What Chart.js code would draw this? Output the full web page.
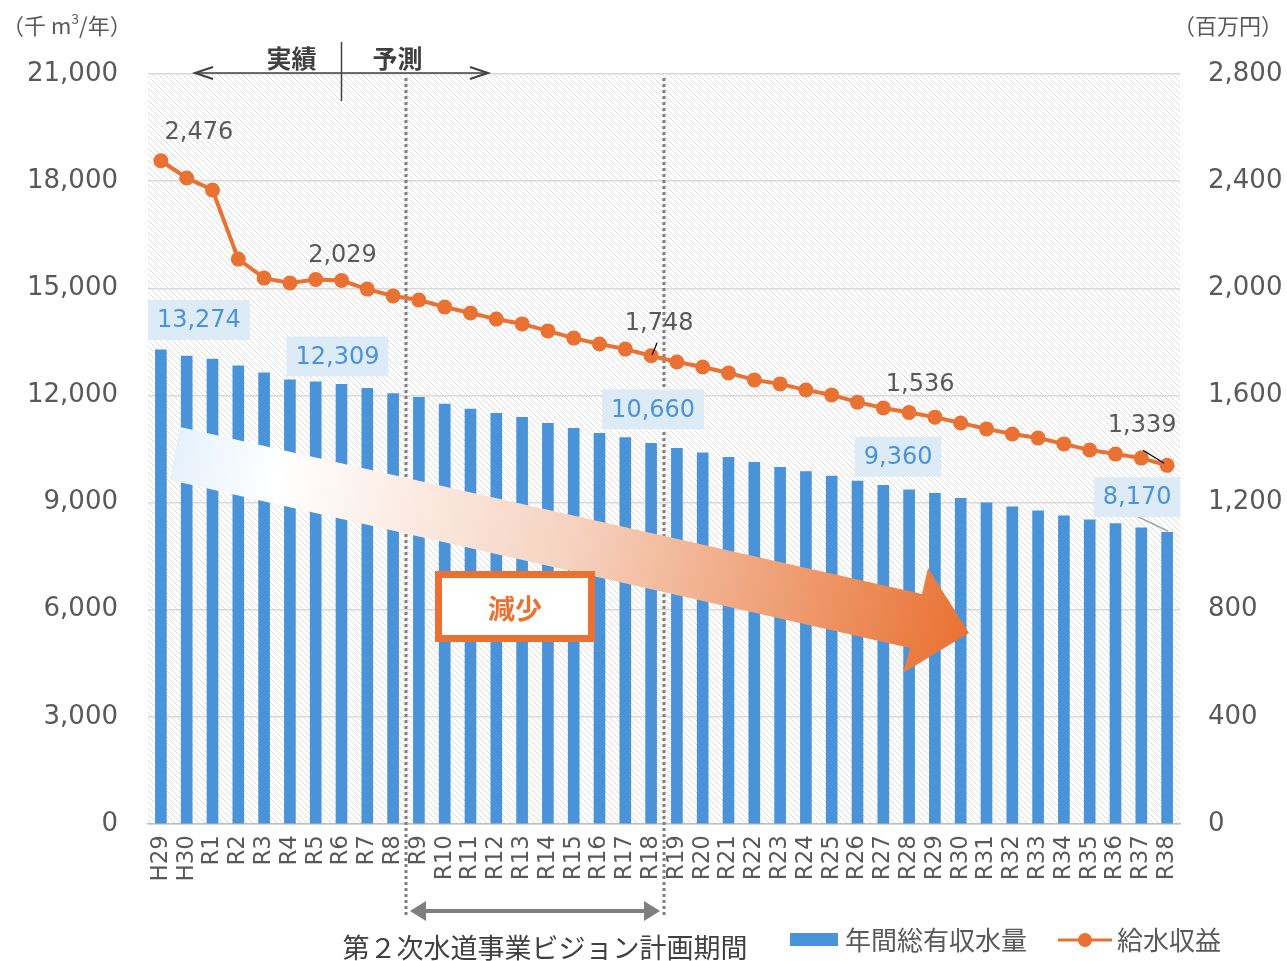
<!DOCTYPE html>
<html>
<head>
<meta charset="utf-8">
<script src="https://cdn.jsdelivr.net/npm/chart.js@4.4.1/dist/chart.umd.min.js"></script>
<style>
  html, body { margin: 0; padding: 0; background: #fff; }
  #wrap { width: 1287px; height: 961px; }
</style>
</head>
<body>
<div id="wrap"><canvas id="chart"></canvas></div>
<script>
const years = ["H29", "H30", "R1", "R2", "R3", "R4", "R5", "R6", "R7", "R8", "R9", "R10",
  "R11", "R12", "R13", "R14", "R15", "R16", "R17", "R18", "R19", "R20", "R21", "R22",
  "R23", "R24", "R25", "R26", "R27", "R28", "R29", "R30", "R31", "R32", "R33", "R34",
  "R35", "R36", "R37", "R38"];

// 年間総有収水量 (千m3/年)
const volume = [13274, 13100, 13020, 12830, 12630, 12440, 12380, 12309, 12200, 12050,
  11950, 11760, 11620, 11500, 11390, 11220, 11080, 10940, 10820, 10660,
  10520, 10390, 10270, 10130, 9990, 9870, 9740, 9600, 9480, 9360,
  9260, 9120, 8990, 8880, 8770, 8630, 8520, 8410, 8290, 8170];

// 給水収益 (百万円)
const revenue = [2476, 2412, 2367, 2109, 2038, 2020, 2033, 2029, 1997, 1971,
  1956, 1930, 1908, 1885, 1867, 1841, 1814, 1792, 1773, 1748,
  1725, 1706, 1684, 1658, 1643, 1620, 1602, 1575, 1553, 1536,
  1519, 1497, 1475, 1456, 1441, 1419, 1396, 1381, 1366, 1339];

const leftTicks = [0, 3000, 6000, 9000, 12000, 15000, 18000, 21000];
const rightTicks = [0, 400, 800, 1200, 1600, 2000, 2400, 2800];

// which points get a value label, and where the label sits
const volumeLabels = [
  { i: 0, dx: 38, dy: -30 },
  { i: 7, dx: -4, dy: -28 },
  { i: 19, dx: 2, dy: -34 },
  { i: 29, dx: -11, dy: -33 },
  { i: 39, dx: -30, dy: -35, leader: true },
];
const revenueLabels = [
  { i: 0, dx: 38, dy: -28 },
  { i: 7, dx: 1, dy: -25 },
  { i: 19, dx: 8, dy: -32, leader: [6, -13, 1, -1] },
  { i: 29, dx: 11, dy: -28 },
  { i: 39, dx: -25, dy: -40, leader: [-24, -15, -3, -2] },
];

const FONT = '"DejaVu Sans", "Noto Sans CJK JP", sans-serif';
const JFONT = '"Noto Sans CJK JP", sans-serif';
const GREY = '#595959';
const BLUE = '#4A93D9';
const ORANGE = '#E97132';

const fmt = v => v.toLocaleString('en-US');

function hatchPattern(ctx) {
  const c = document.createElement('canvas');
  c.width = 6; c.height = 6;
  const p = c.getContext('2d');
  p.fillStyle = '#fff';
  p.fillRect(0, 0, 6, 6);
  p.strokeStyle = '#dedede';
  p.lineWidth = 1;
  p.beginPath();
  p.moveTo(-1, -1); p.lineTo(7, 7);
  p.moveTo(-1, 5); p.lineTo(1, 7);
  p.moveTo(5, -1); p.lineTo(7, 1);
  p.stroke();
  return ctx.createPattern(c, 'repeat');
}

function arrowHead(ctx, x, y, dir, len, half, filled) {
  ctx.beginPath();
  ctx.moveTo(x + dir * len, y - half);
  ctx.lineTo(x, y);
  ctx.lineTo(x + dir * len, y + half);
  if (filled) { ctx.closePath(); ctx.fill(); } else { ctx.stroke(); }
}

const decor = {
  id: 'decor',
  beforeDraw(chart) {
    const { ctx, chartArea: a } = chart;
    ctx.save();
    ctx.fillStyle = '#fff';
    ctx.fillRect(0, 0, chart.width, chart.height);
    ctx.fillStyle = hatchPattern(ctx);
    ctx.fillRect(a.left, a.top, a.right - a.left, a.bottom - a.top);
    ctx.restore();
  },
  beforeDatasetsDraw(chart) {
    const { ctx, chartArea: a, scales } = chart;
    const x = scales.x;
    ctx.save();
    ctx.strokeStyle = '#7f7f7f';
    ctx.lineWidth = 3;
    ctx.setLineDash([3, 3]);
    [9, 19].forEach(i => {
      const px = (x.getPixelForValue(i) + x.getPixelForValue(i + 1)) / 2;
      ctx.beginPath();
      ctx.moveTo(px, a.top + 4);
      ctx.lineTo(px, 918);
      ctx.stroke();
    });
    ctx.restore();
  },
  afterDatasetsDraw(chart) {
    const { ctx, chartArea: a, scales } = chart;
    const x = scales.x;
    ctx.save();

    // big gradient arrow
    const g = ctx.createLinearGradient(175, 450, 970, 630);
    g.addColorStop(0, '#e6f1fb');
    g.addColorStop(0.13, '#ffffff');
    g.addColorStop(0.5, '#f6d2bf');
    g.addColorStop(1, ORANGE);
    ctx.fillStyle = g;
    ctx.beginPath();
    ctx.moveTo(180, 427);
    ctx.lineTo(922, 594);
    ctx.lineTo(928, 568);
    ctx.lineTo(969, 633);
    ctx.lineTo(903, 673);
    ctx.lineTo(910, 648);
    ctx.lineTo(170, 480);
    ctx.closePath();
    ctx.fill();

    // 減少 box
    ctx.fillStyle = '#fff';
    ctx.fillRect(435, 571, 160, 71);
    ctx.strokeStyle = ORANGE;
    ctx.lineWidth = 7;
    ctx.strokeRect(438.5, 574.5, 153, 64);
    ctx.fillStyle = ORANGE;
    ctx.font = 'bold 27px ' + JFONT;
    ctx.textAlign = 'center';
    ctx.textBaseline = 'middle';
    ctx.fillText('減少', 515, 609);

    // value labels on bars
    const barMeta = chart.getDatasetMeta(0);
    ctx.font = '24px ' + FONT;
    volumeLabels.forEach(l => {
      const el = barMeta.data[l.i];
      const cx = el.x + l.dx, cy = el.y + l.dy;
      const txt = fmt(volume[l.i]);
      const w = ctx.measureText(txt).width + 18;
      if (l.leader) {
        ctx.strokeStyle = '#a6a6a6';
        ctx.lineWidth = 1.5;
        ctx.beginPath();
        ctx.moveTo(cx, cy + 19);
        ctx.lineTo(el.x + 1, el.y - 1);
        ctx.stroke();
      }
      ctx.fillStyle = '#DDEBF7';
      ctx.fillRect(cx - w / 2, cy - 20, w, 40);
      ctx.fillStyle = BLUE;
      ctx.fillText(txt, cx, cy + 1);
    });

    // value labels on line
    const lineMeta = chart.getDatasetMeta(1);
    lineMeta.data.length && revenueLabels.forEach(l => {
      const el = lineMeta.data[l.i];
      if (l.leader) {
        ctx.strokeStyle = '#000';
        ctx.lineWidth = 1.2;
        ctx.beginPath();
        ctx.moveTo(el.x + l.leader[0], el.y + l.leader[1]);
        ctx.lineTo(el.x + l.leader[2], el.y + l.leader[3]);
        ctx.stroke();
      }
      ctx.fillStyle = GREY;
      ctx.fillText(fmt(revenue[l.i]), el.x + l.dx, el.y + l.dy);
    });

    // unit labels
    ctx.font = '22px ' + JFONT;
    ctx.fillStyle = GREY;
    ctx.textAlign = 'left';
    ctx.fillText('（千 m', 2, 26);
    let w1 = ctx.measureText('（千 m').width;
    ctx.font = '14px ' + JFONT;
    ctx.fillText('3', 2 + w1, 19);
    let w2 = ctx.measureText('3').width;
    ctx.font = '22px ' + JFONT;
    ctx.fillText('/年）', 2 + w1 + w2, 26);
    ctx.textAlign = 'right';
    ctx.fillText('（百万円）', 1283, 26);

    // 実績 / 予測
    const mid = x.getPixelForValue(7);
    ctx.strokeStyle = '#404040';
    ctx.fillStyle = '#404040';
    ctx.lineWidth = 1.5;
    ctx.beginPath();
    ctx.moveTo(mid, 42); ctx.lineTo(mid, 101);
    ctx.moveTo(195, 73); ctx.lineTo(488, 73);
    ctx.stroke();
    ctx.lineWidth = 2;
    arrowHead(ctx, 195, 73, 1, 18, 6, false);
    arrowHead(ctx, 488, 73, -1, 18, 6, false);
    ctx.font = 'bold 25px ' + JFONT;
    ctx.textAlign = 'center';
    ctx.fillText('実績', mid - 50, 58);
    ctx.fillText('予測', mid + 56, 58);

    // plan period arrow
    const p1 = (x.getPixelForValue(9) + x.getPixelForValue(10)) / 2;
    const p2 = (x.getPixelForValue(19) + x.getPixelForValue(20)) / 2;
    ctx.strokeStyle = '#7f7f7f';
    ctx.fillStyle = '#7f7f7f';
    ctx.lineWidth = 4;
    ctx.beginPath();
    ctx.moveTo(p1 + 12, 911); ctx.lineTo(p2 - 12, 911);
    ctx.stroke();
    arrowHead(ctx, p1 + 4, 911, 1, 16, 10, true);
    arrowHead(ctx, p2 - 4, 911, -1, 16, 10, true);
    ctx.fillStyle = '#404040';
    ctx.font = '27px ' + JFONT;
    ctx.fillText('第２次水道事業ビジョン計画期間', 545, 948);

    // legend
    ctx.textAlign = 'left';
    ctx.fillStyle = BLUE;
    ctx.fillRect(790, 933, 48, 13);
    ctx.fillStyle = GREY;
    ctx.font = '26px ' + JFONT;
    ctx.fillText('年間総有収水量', 845, 940);
    ctx.strokeStyle = ORANGE;
    ctx.lineWidth = 3;
    ctx.beginPath();
    ctx.moveTo(1058, 940); ctx.lineTo(1112, 940);
    ctx.stroke();
    ctx.fillStyle = ORANGE;
    ctx.beginPath();
    ctx.arc(1085, 940, 7, 0, Math.PI * 2);
    ctx.fill();
    ctx.fillStyle = GREY;
    ctx.fillText('給水収益', 1117, 940);

    ctx.restore();
  }
};

new Chart(document.getElementById('chart'), {
  type: 'bar',
  data: {
    labels: years,
    datasets: [
      {
        type: 'bar',
        label: '年間総有収水量',
        data: volume,
        backgroundColor: BLUE,
        barThickness: 11,
        yAxisID: 'y',
        order: 2,
      },
      {
        type: 'line',
        label: '給水収益',
        data: revenue,
        borderColor: ORANGE,
        backgroundColor: ORANGE,
        borderWidth: 4,
        pointRadius: 7.5,
        pointBackgroundColor: ORANGE,
        pointBorderWidth: 0,
        tension: 0,
        yAxisID: 'y1',
        order: 1,
      },
    ],
  },
  options: {
    responsive: true,
    maintainAspectRatio: false,
    animation: false,
    layout: { padding: { top: 74, left: 0, right: 0, bottom: 0 } },
    plugins: {
      legend: { display: false },
      tooltip: { enabled: false },
    },
    scales: {
      x: {
        grid: { display: false, drawTicks: false },
        border: { display: true, color: '#bfbfbf', width: 1.5 },
        ticks: {
          autoSkip: false,
          minRotation: 90,
          maxRotation: 90,
          padding: 11,
          color: GREY,
          font: { family: FONT, size: 23 },
        },
        afterFit(s) { s.height = 137; },
      },
      y: {
        position: 'left',
        min: 0,
        max: 21000,
        afterBuildTicks(s) { s.ticks = leftTicks.map(v => ({ value: v })); },
        grid: { color: '#d9d9d9', lineWidth: 1.5, drawTicks: false },
        border: { display: false },
        ticks: {
          padding: 30,
          color: GREY,
          font: { family: FONT, size: 26 },
          callback: v => fmt(v),
        },
        afterFit(s) { s.width = 148; },
      },
      y1: {
        position: 'right',
        min: 0,
        max: 2800,
        afterBuildTicks(s) { s.ticks = rightTicks.map(v => ({ value: v })); },
        grid: { display: false, drawTicks: false },
        border: { display: false },
        ticks: {
          padding: 28,
          color: GREY,
          font: { family: FONT, size: 26 },
          callback: v => fmt(v),
        },
        afterFit(s) { s.width = 107; },
      },
    },
  },
  plugins: [decor],
});
</script>
</body>
</html>
